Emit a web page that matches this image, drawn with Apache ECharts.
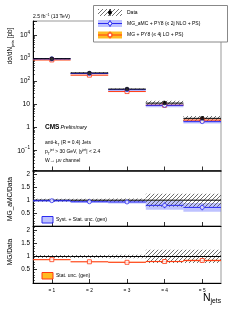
<!DOCTYPE html>
<html><head><meta charset="utf-8">
<script src="https://cdn.jsdelivr.net/npm/echarts@6/dist/echarts.min.js"></script>
<style>html,body{margin:0;padding:0;background:#fff}#c{width:240px;height:311px}</style>
</head><body><div id="c"></div>
<script>
// ---------- data ----------
const categories = ['= 1', '= 2', '= 3', '= 4', '= 5'];
const dataXs = [950, 230, 46, 11.4, 2.5];
const dataRelUnc = [0.06, 0.06, 0.07, 0.25, 0.25];
const amcXs = [930, 216, 43, 9.1, 1.8];
const amcRelUnc = [0.05, 0.05, 0.06, 0.17, 0.17];
const mgXs = [836, 184, 36, 9.2, 2.1];
const mgRelUnc = [0.03, 0.03, 0.04, 0.04, 0.05];
const amcRatio = [0.98, 0.94, 0.93, 0.80, 0.72];
const amcRatioUnc = [0.05, 0.05, 0.06, 0.17, 0.17];
const amcRatioErr = [0.03, 0.03, 0.04, 0.11, 0.11];
const mgRatio = [0.88, 0.80, 0.78, 0.81, 0.85];
const mgRatioUnc = [0.02, 0.02, 0.03, 0.03, 0.04];
const mainTickValues = [0.1, 1, 10, 100, 1000, 10000];
const mainTickLabels = ['{b|10}{s|\u22121}', '{b|1}', '{b|10}', '{b|10}{s|2}', '{b|10}{s|3}', '{b|10}{s|4}'];
const ratioTickValues = [0.5, 1, 1.5, 2];
const ratioTickLabels = ['0.5', '1', '1.5', '2'];

// ---------- style ----------
const FF = 'Liberation Sans, Arial, Helvetica, sans-serif';
const BLUE = '#2b2bf0', BLUE_BAND = 'rgba(110,120,255,0.45)';
const RED = '#ff3b14', MG_BAND = 'rgba(255,150,60,0.5)', ORANGE = '#ffbb22';

function hatchCanvas() {
  const c = document.createElement('canvas'); c.width = 4; c.height = 4;
  const g = c.getContext('2d'); g.strokeStyle = '#333'; g.lineWidth = 0.7;
  g.beginPath(); g.moveTo(0, 4); g.lineTo(4, 0); g.moveTo(-1, 1); g.lineTo(1, -1); g.moveTo(3, 5); g.lineTo(5, 3); g.stroke();
  return c;
}
const HATCH = { image: hatchCanvas(), repeat: 'repeat' };

function clip(rect, params) {
  const cs = params.coordSys;
  return echarts.graphic.clipRectByRect(rect, { x: cs.x, y: cs.y, width: cs.width, height: cs.height });
}
function bandRender(fill, stroke) {
  return function (params, api) {
    const i = api.value(0), lo = api.value(1), hi = api.value(2);
    const a = api.coord([i, hi]), b = api.coord([i, lo]);
    const w = api.coord([1, hi])[0] - api.coord([0, hi])[0];
    const r = clip({ x: a[0] - w / 2, y: a[1], width: w, height: b[1] - a[1] }, params);
    return r ? { type: 'rect', shape: r, style: { fill: fill, stroke: stroke || null, lineWidth: 0.6 } } : null;
  };
}
function hlineRender(color, width) {
  return function (params, api) {
    const i = api.value(0), v = api.value(1);
    const a = api.coord([i, v]);
    const w = api.coord([1, v])[0] - api.coord([0, v])[0];
    return { type: 'line', shape: { x1: a[0] - w / 2, y1: a[1], x2: a[0] + w / 2, y2: a[1] }, style: { stroke: color, lineWidth: width } };
  };
}
function vbarRender(color, width) {
  return function (params, api) {
    const i = api.value(0), lo = api.value(1), hi = api.value(2);
    const a = api.coord([i, hi]), b = api.coord([i, lo]);
    return { type: 'line', shape: { x1: a[0], y1: a[1], x2: b[0], y2: b[1] }, style: { stroke: color, lineWidth: width } };
  };
}
const idx = categories.map((c, i) => i);
function custom(g, render, data, z) {
  return { type: 'custom', xAxisIndex: g, yAxisIndex: g, renderItem: render, data: data, z: z, silent: true, clip: true };
}
function scatter(g, data, symbol, size, itemStyle, z) {
  return { type: 'scatter', xAxisIndex: g, yAxisIndex: g, data: data, symbol: symbol, symbolSize: size, itemStyle: itemStyle, z: z, silent: true };
}

const series = [
  // main panel
  custom(0, bandRender(BLUE_BAND), idx.map(i => [i, amcXs[i] * (1 - amcRelUnc[i]), amcXs[i] * (1 + amcRelUnc[i])]), 1),
  custom(0, bandRender(MG_BAND), idx.map(i => [i, mgXs[i] * (1 - mgRelUnc[i]), mgXs[i] * (1 + mgRelUnc[i])]), 2),
  custom(0, bandRender(HATCH), idx.map(i => [i, dataXs[i] * (1 - dataRelUnc[i]), dataXs[i] * (1 + dataRelUnc[i])]), 3),
  custom(0, hlineRender(RED, 1), idx.map(i => [i, mgXs[i]]), 4),
  custom(0, hlineRender(BLUE, 1), idx.map(i => [i, amcXs[i]]), 5),
  custom(0, hlineRender('#000', 1), idx.map(i => [i, dataXs[i]]), 6),
  custom(0, vbarRender('#000', 1), idx.map(i => [i, dataXs[i] * (1 - dataRelUnc[i]), dataXs[i] * (1 + dataRelUnc[i])]), 6),
  scatter(0, idx.map(i => [i, mgXs[i]]), 'rect', 4, { color: '#fff', borderColor: RED, borderWidth: 1 }, 7),
  scatter(0, idx.map(i => [i, amcXs[i]]), 'circle', 4, { color: '#fff', borderColor: BLUE, borderWidth: 1 }, 8),
  scatter(0, idx.map(i => [i, dataXs[i]]), 'circle', 4.5, { color: '#000' }, 9),
  // ratio 1
  custom(1, bandRender(BLUE_BAND), idx.map(i => [i, amcRatio[i] - amcRatioUnc[i], amcRatio[i] + amcRatioUnc[i]]), 1),
  custom(1, bandRender(HATCH), idx.map(i => [i, 1 - dataRelUnc[i], 1 + dataRelUnc[i]]), 2),
  custom(1, hlineRender('#000', 1), idx.map(i => [i, 1]), 3),
  custom(1, hlineRender(BLUE, 1), idx.map(i => [i, amcRatio[i]]), 4),
  custom(1, vbarRender(BLUE, 1), idx.map(i => [i, amcRatio[i] - amcRatioErr[i], amcRatio[i] + amcRatioErr[i]]), 4),
  scatter(1, idx.map(i => [i, amcRatio[i]]), 'circle', 4, { color: '#fff', borderColor: BLUE, borderWidth: 1 }, 5),
  // ratio 2
  custom(2, bandRender(MG_BAND), idx.map(i => [i, mgRatio[i] - mgRatioUnc[i], mgRatio[i] + mgRatioUnc[i]]), 1),
  custom(2, bandRender(HATCH), idx.map(i => [i, 1 - dataRelUnc[i], 1 + dataRelUnc[i]]), 2),
  custom(2, hlineRender('#000', 1), idx.map(i => [i, 1]), 3),
  custom(2, hlineRender(RED, 1), idx.map(i => [i, mgRatio[i]]), 4),
  scatter(2, idx.map(i => [i, mgRatio[i]]), 'rect', 4, { color: '#fff', borderColor: RED, borderWidth: 1 }, 5)
];

const gridDefs = [
  { left: 33, top: 21, width: 188, height: 149.5 },
  { left: 33, top: 170.5, width: 188, height: 55.5 },
  { left: 33, top: 226, width: 188, height: 57 }
];
const grid = gridDefs.map(g => Object.assign({ show: true, borderColor: '#999', borderWidth: 1, backgroundColor: 'transparent', containLabel: false }, g));

const xAxis = [0, 1, 2].map(i => ({
  type: 'category', gridIndex: i, data: categories, boundaryGap: true,
  axisLine: { show: true, onZero: false, lineStyle: { color: '#000', width: i === 0 ? 1.5 : 1 } },
  axisTick: { show: true, inside: true, alignWithLabel: true, length: 4, lineStyle: { color: '#000', width: 0.8 } },
  axisLabel: { show: i === 2, fontSize: 4.8, color: '#000', margin: 5, fontFamily: FF },
  splitLine: { show: false }
}));

const yAxis = [
  {
    type: 'log', gridIndex: 0, logBase: 10, min: 0.0139, max: 40400,
    axisLine: { show: true, lineStyle: { color: '#000', width: 1 } },
    axisTick: { show: true, inside: true, length: 4, lineStyle: { color: '#000', width: 0.8 } },
    minorTick: { show: true, splitNumber: 9, length: 2, lineStyle: { color: '#000', width: 0.6 } },
    splitLine: { show: false },
    axisLabel: {
      show: true, margin: 3, color: '#000', showMinLabel: false, showMaxLabel: false,
      formatter: function (v) {
        const k = mainTickValues.findIndex(t => Math.abs(Math.log10(t) - Math.log10(v)) < 1e-6);
        return k < 0 ? '' : mainTickLabels[k];
      },
      rich: { b: { fontSize: 6.8, fontFamily: FF, color: '#000', lineHeight: 10 }, s: { fontSize: 4.6, fontFamily: FF, color: '#000', verticalAlign: 'top' } }
    }
  }
].concat([1, 2].map(i => ({
  type: 'value', gridIndex: i, min: 0, max: 2.15, interval: 0.5,
  axisLine: { show: true, lineStyle: { color: '#000', width: 1 } },
  axisTick: { show: true, inside: true, length: 4, lineStyle: { color: '#000', width: 0.8 } },
  minorTick: { show: true, splitNumber: 5, length: 2, lineStyle: { color: '#000', width: 0.6 } },
  splitLine: { show: false },
  axisLabel: {
    show: true, margin: 3, color: '#000', fontSize: 6.3, fontFamily: FF, showMaxLabel: false,
    formatter: function (v) {
      const k = ratioTickValues.findIndex(t => Math.abs(t - v) < 1e-6);
      return k < 0 ? '' : ratioTickLabels[k];
    }
  }
})));

// ---------- texts / legends ----------
const txtRich = {
  n: { fontSize: 5, fontFamily: FF, color: '#000', lineHeight: 8 },
  s: { fontSize: 3.6, fontFamily: FF, color: '#000', verticalAlign: 'top' },
  t: { fontSize: 3.6, fontFamily: FF, color: '#000', verticalAlign: 'bottom' }
};
function text(x, y, str, opts) {
  return Object.assign({ type: 'text', x: x, y: y, silent: true, z: 100,
    style: Object.assign({ text: str, fontFamily: FF, fontSize: 5, fill: '#000', textAlign: 'left', textVerticalAlign: 'middle' }, opts || {}) });
}
function richText(x, y, str, rich, extra) {
  return Object.assign({ type: 'text', x: x, y: y, silent: true, z: 100,
    style: { text: str, rich: rich, textAlign: 'left', textVerticalAlign: 'middle', fill: '#000' } }, extra || {});
}
const LX = 98, LW = 24;
const graphic = [
  richText(33, 16.5, '{n|2.5 fb}{s|\u22121}{n| (13 TeV)}', txtRich),
  // legend box
  { type: 'rect', shape: { x: 93.5, y: 5.5, width: 134, height: 36.5 }, style: { fill: '#fff', stroke: '#888', lineWidth: 1 }, z: 90, silent: true },
  { type: 'rect', shape: { x: LX, y: 9, width: LW, height: 7 }, style: { fill: HATCH }, z: 95, silent: true },
  { type: 'line', shape: { x1: LX + LW / 2, y1: 9, x2: LX + LW / 2, y2: 16 }, style: { stroke: '#000', lineWidth: 1 }, z: 96, silent: true },
  { type: 'circle', shape: { cx: LX + LW / 2, cy: 12.5, r: 2 }, style: { fill: '#000' }, z: 97, silent: true },
  { type: 'rect', shape: { x: LX, y: 20, width: LW, height: 7 }, style: { fill: BLUE_BAND }, z: 95, silent: true },
  { type: 'line', shape: { x1: LX, y1: 23.5, x2: LX + LW, y2: 23.5 }, style: { stroke: BLUE, lineWidth: 1 }, z: 96, silent: true },
  { type: 'line', shape: { x1: LX + LW / 2, y1: 20, x2: LX + LW / 2, y2: 27 }, style: { stroke: BLUE, lineWidth: 1 }, z: 96, silent: true },
  { type: 'circle', shape: { cx: LX + LW / 2, cy: 23.5, r: 1.8 }, style: { fill: '#fff', stroke: BLUE, lineWidth: 1 }, z: 97, silent: true },
  { type: 'rect', shape: { x: LX, y: 31.5, width: LW, height: 7 }, style: { fill: ORANGE }, z: 95, silent: true },
  { type: 'line', shape: { x1: LX, y1: 35, x2: LX + LW, y2: 35 }, style: { stroke: RED, lineWidth: 1 }, z: 96, silent: true },
  { type: 'line', shape: { x1: LX + LW / 2, y1: 31.5, x2: LX + LW / 2, y2: 38.5 }, style: { stroke: RED, lineWidth: 1 }, z: 96, silent: true },
  { type: 'rect', shape: { x: LX + LW / 2 - 1.8, y: 33.2, width: 3.6, height: 3.6 }, style: { fill: '#fff', stroke: RED, lineWidth: 1 }, z: 97, silent: true },
  text(127, 12.5, 'Data'),
  text(127, 23.5, 'MG_aMC + PY8 (\u2264 2j NLO + PS)'),
  text(127, 35, 'MG + PY8 (\u2264 4j LO + PS)'),
  // CMS labels
  text(45, 127, 'CMS', { fontWeight: 'bold', fontSize: 6.5 }),
  text(60.5, 127.3, 'Preliminary', { fontStyle: 'italic', fontSize: 5.3 }),
  richText(45, 142.5, '{n|anti-k}{t|T}{n| (R = 0.4) Jets}', txtRich),
  richText(45, 151.5, '{n|p}{t|T}{s|jet}{n| > 30 GeV, |y}{s|jet}{n|| < 2.4}', txtRich),
  text(45, 161, 'W\u2192 \u03bc\u03bd channel'),
  // ratio legends
  { type: 'rect', shape: { x: 42, y: 216.5, width: 11, height: 6.5 }, style: { fill: BLUE_BAND, stroke: BLUE, lineWidth: 1 }, z: 95, silent: true },
  text(56, 219.8, 'Syst. + Stat. unc. (gen)'),
  { type: 'rect', shape: { x: 42, y: 272.5, width: 11, height: 6.5 }, style: { fill: ORANGE, stroke: RED, lineWidth: 1 }, z: 95, silent: true },
  text(56, 275.8, 'Stat. unc. (gen)'),
  // axis titles
  richText(10, 46, '{a|d\u03c3/dN}{b|jets}{a| [pb]}', { a: { fontSize: 6.3, fontFamily: FF, color: '#000', lineHeight: 9 }, b: { fontSize: 4.4, fontFamily: FF, color: '#000', verticalAlign: 'bottom' } }, { rotation: Math.PI / 2, style: { text: '{a|d\u03c3/dN}{b|jets}{a| [pb]}', rich: { a: { fontSize: 6.3, fontFamily: FF, color: '#000', lineHeight: 9 }, b: { fontSize: 4.4, fontFamily: FF, color: '#000', verticalAlign: 'bottom' } }, textAlign: 'center', textVerticalAlign: 'middle' } }),
  text(10, 199, 'MG_aMC/Data', { fontSize: 6.6, textAlign: 'center' }),
  text(10, 252, 'MG/Data', { fontSize: 6.6, textAlign: 'center' }),
  richText(203, 298, '{a|N}{b|jets}', { a: { fontSize: 10.5, fontFamily: FF, color: '#000', lineHeight: 13 }, b: { fontSize: 6.8, fontFamily: FF, color: '#000', verticalAlign: 'bottom' } })
];
graphic[graphic.length - 3].rotation = Math.PI / 2;
graphic[graphic.length - 2].rotation = Math.PI / 2;

const chart = echarts.init(document.getElementById('c'), null, { renderer: 'canvas' });
chart.setOption({ animation: false, grid: grid, xAxis: xAxis, yAxis: yAxis, series: series, graphic: { elements: graphic } });
</script></body></html>
